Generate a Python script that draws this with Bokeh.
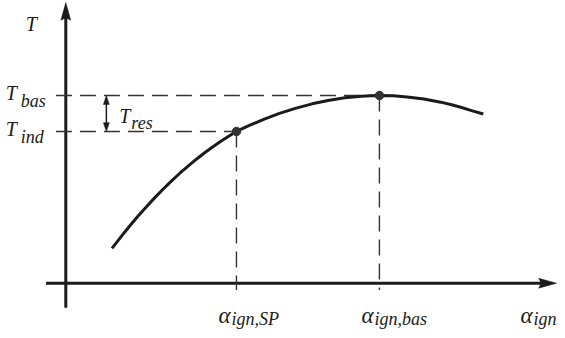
from bokeh.plotting import figure
from bokeh.models import Range1d, ColumnDataSource
from bokeh.core.properties import value
from bokeh.embed import file_html
from bokeh.resources import INLINE

# ---------------- data (arbitrary units) ----------------
curve_alpha = [4.67, 5.67, 6.5, 7.33, 8.2, 9.0, 9.8, 10.67, 11.5, 12.33, 13.2, 14.0,
               14.8, 15.67, 16.5, 17.25, 17.9, 18.67, 19.3, 20.0, 21.6, 23.2, 24.9,
               26.5, 28.2, 29.9, 30.8, 31.7, 33.1, 34.5, 36.2, 37.9, 39.0, 40.0,
               41.1, 42.2]
curve_T = [3.54, 4.83, 5.86, 6.84, 7.82, 8.69, 9.51, 10.36, 11.14, 11.87, 12.59, 13.22,
           13.81, 14.41, 14.95, 15.4, 15.71, 16.07, 16.34, 16.63, 17.24, 17.75, 18.21,
           18.55, 18.82, 18.99, 19.03, 19.05, 19.02, 18.91, 18.7, 18.38, 18.12, 17.84,
           17.5, 17.18]

alpha_SP = 17.25    # alpha_ign,SP
alpha_bas = 31.7    # alpha_ign,bas
T_ind = 15.4
T_bas = 19.05
point_alpha = [alpha_SP, alpha_bas]
point_T = [T_ind, T_bas]

T_names = ["T", "T", "T", "T"]
T_subs = ["", "bas", "ind", "res"]
alpha_names = ["α", "α", "α"]
alpha_subs = ["ign,SP", "ign,bas", "ign"]

# ---------------- layout / style ----------------
X_MIN, X_MAX = -6.6, 49.7
Y_MIN, Y_MAX = -4.8, 28.7
AX_X0, AX_X1 = -2.0, 49.6     # alpha axis extent
AX_Y0, AX_Y1 = -2.5, 28.5     # T axis extent
DASH_X0 = -1.0
DASH_Y0 = -0.7
RES_X = 4.1
INK = "#1b1b1b"
DASH = "#333333"
FONT = value("Liberation Serif")
HEAD_L, HEAD_W, NOTCH = 1.8, 0.5, 0.25
SHEAD_L, SHEAD_W = 0.9, 0.3

p = figure(width=557, height=330,
           x_range=Range1d(X_MIN, X_MAX), y_range=Range1d(Y_MIN, Y_MAX),
           x_axis_type=None, y_axis_type=None,
           toolbar_location=None, output_backend="svg", min_border=0,
           outline_line_color=None, background_fill_color="white",
           border_fill_color="white")

# axes with arrow heads
p.line([AX_X0, AX_X1 - HEAD_L + 0.3], [0, 0], line_width=3, color=INK)
p.line([0, 0], [AX_Y0, AX_Y1 - HEAD_L + 0.3], line_width=3, color=INK)
head_xs = [[AX_X1, AX_X1 - HEAD_L, AX_X1 - HEAD_L + NOTCH, AX_X1 - HEAD_L],
           [0, -HEAD_W, 0, HEAD_W]]
head_ys = [[0, HEAD_W, 0, -HEAD_W],
           [AX_Y1, AX_Y1 - HEAD_L, AX_Y1 - HEAD_L + NOTCH, AX_Y1 - HEAD_L]]
p.patches(head_xs, head_ys, fill_color=INK, line_color=INK, line_width=0.5)

# dashed guide lines
p.segment(x0=[DASH_X0] * 2, y0=point_T, x1=point_alpha, y1=point_T,
          line_dash="16 8", line_width=1.4, color=DASH)
p.segment(x0=point_alpha, y0=point_T, x1=point_alpha, y1=[DASH_Y0] * 2,
          line_dash="16 8", line_width=1.4, color=DASH)

# T_res double arrow
p.segment(x0=[RES_X], y0=[T_ind + SHEAD_L - 0.2], x1=[RES_X], y1=[T_bas - SHEAD_L + 0.2],
          line_width=1.5, color=INK)
p.patches([[RES_X, RES_X - SHEAD_W, RES_X + SHEAD_W],
           [RES_X, RES_X - SHEAD_W, RES_X + SHEAD_W]],
          [[T_bas, T_bas - SHEAD_L, T_bas - SHEAD_L],
           [T_ind, T_ind + SHEAD_L, T_ind + SHEAD_L]],
          fill_color=INK, line_color=INK, line_width=0.5)

# curve and marked points
p.line(curve_alpha, curve_T, line_width=3, color=INK, line_join="round")
p.scatter(point_alpha, point_T, size=8.5, color=DASH)

# labels: main symbols
main = ColumnDataSource(dict(
    x=[0, 0, 0, RES_X, alpha_SP, alpha_bas, AX_X1],
    y=[AX_Y1, T_bas, T_ind, T_ind, 0, 0, 0],
    text=T_names + alpha_names,
    dx=[-40, -60, -60, 13, -18, -18, -36],
    dy=[21.5, -2.5, -3, -16, 32.5, 32.5, 32.5],
    size=["20px", "20px", "20px", "20px", "23px", "23px", "23px"],
))
p.text(x="x", y="y", text="text", x_offset="dx", y_offset="dy", source=main,
       text_font=FONT, text_font_style="italic", text_font_size="size",
       text_baseline="alphabetic", text_align="left", text_color=INK)

sub = ColumnDataSource(dict(
    x=[0, 0, RES_X, alpha_SP, alpha_bas, AX_X1],
    y=[T_bas, T_ind, T_ind, 0, 0, 0],
    text=T_subs[1:] + alpha_subs,
    dx=[-45, -45, 25, -5, -5, -23],
    dy=[5.5, 5.5, -9, 36, 36, 36],
))
p.text(x="x", y="y", text="text", x_offset="dx", y_offset="dy", source=sub,
       text_font=FONT, text_font_style="italic", text_font_size="18px",
       text_baseline="alphabetic", text_align="left", text_color=INK)

open("out.html", "w").write(file_html(p, INLINE))
